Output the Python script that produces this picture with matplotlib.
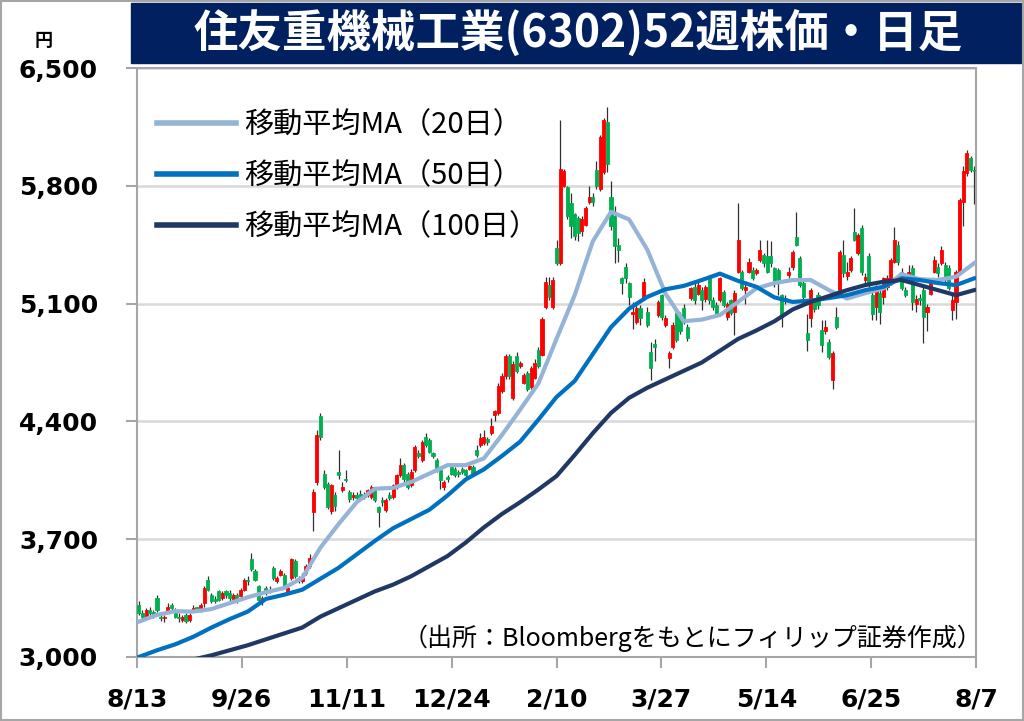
import matplotlib
matplotlib.use('Agg')
import matplotlib.pyplot as plt
from matplotlib.patches import Rectangle
from matplotlib.lines import Line2D
import numpy as np

plt.rcParams['font.family'] = ['DejaVu Sans', 'Noto Sans CJK JP']

# 日足 (始値, 高値, 安値, 終値)
opens = [3310, 3260, 3240, 3280, 3270, 3350, 3240, 3230, 3270, 3310,
         3280, 3240, 3220, 3250, 3220, 3280, 3295, 3280, 3320, 3460,
         3370, 3345, 3390, 3350, 3390, 3380, 3340, 3370, 3360, 3400,
         3460, 3580, 3510, 3420, 3330, 3410, 3390, 3530, 3450, 3490,
         3490, 3390, 3470, 3570, 3470, 3450, 3500, 3540, 3860, 4040,
         4430, 4090, 4030, 3870, 3960, 4100, 3990, 4060, 3980, 3950,
         3960, 3970, 3950, 3960, 3950, 3990, 3890, 3935, 3875, 3960,
         3950, 4010, 4080, 4140, 4090, 4020, 4110, 4215, 4170, 4310,
         4290, 4210, 4170, 4110, 4010, 4070, 4130, 4120, 4100, 4115,
         4110, 4120, 4130, 4230, 4260, 4270, 4295, 4330, 4440, 4450,
         4580, 4670, 4790, 4540, 4790, 4730, 4630, 4690, 4605, 4660,
         4825, 4795, 5080, 5210, 5080, 5430, 5340, 5800, 5790, 5700,
         5630, 5610, 5530, 5570, 5705, 5735, 5895, 5780, 5880, 6180,
         5735, 5620, 5450, 5250, 5320, 5220, 5040, 4990, 5075, 5135,
         5050, 4810, 4860, 5035, 5150, 4975, 4775, 4845, 5045, 5030,
         5075, 4960, 5135, 5200, 5160, 5180, 5130, 5250, 5120, 5090,
         5120, 5170, 5020, 5120, 5050, 5290, 5285, 5180, 5290, 5300,
         5280, 5360, 5390, 5380, 5380, 5310, 5300, 5150, 5135, 5270,
         5320, 5495, 5370, 5225, 4925, 5015, 5110, 5150, 4945, 4935,
         4870, 4645, 5020, 5180, 5390, 5265, 5300, 5525, 5400, 5550,
         5240, 5380, 5150, 5080, 5165, 5140, 5200, 5225, 5350, 5450,
         5290, 5180, 5240, 5310, 5100, 5135, 5180, 5050, 5160, 5290,
         5320, 5340, 5330, 5310, 5060, 5110, 5280, 5705, 5875, 5965,
         5895]
highs = [3330, 3280, 3290, 3300, 3280, 3370, 3250, 3250, 3320, 3320,
         3290, 3260, 3250, 3260, 3260, 3310, 3300, 3320, 3420, 3480,
         3380, 3360, 3400, 3390, 3400, 3400, 3380, 3380, 3410, 3470,
         3480, 3620, 3520, 3430, 3360, 3420, 3420, 3540, 3480, 3520,
         3500, 3420, 3590, 3580, 3480, 3500, 3550, 3610, 4000, 4350,
         4450, 4110, 4040, 4030, 3980, 4230, 4040, 4110, 3990, 3980,
         3980, 3990, 3980, 4000, 4020, 4000, 3900, 3950, 3945, 3980,
         4030, 4090, 4180, 4150, 4100, 4120, 4260, 4230, 4290, 4330,
         4300, 4220, 4180, 4120, 4050, 4080, 4140, 4130, 4110, 4130,
         4120, 4150, 4140, 4260, 4330, 4350, 4310, 4420, 4470, 4630,
         4690, 4800, 4800, 4760, 4810, 4760, 4690, 4700, 4730, 4770,
         4840, 5020, 5260, 5260, 5260, 5480, 6190, 5900, 5800, 5760,
         5640, 5620, 5620, 5680, 5800, 5760, 5950, 6100, 6200, 6270,
         5830, 5680, 5490, 5260, 5340, 5230, 5110, 5090, 5090, 5250,
         5080, 4870, 4890, 5120, 5160, 5030, 4820, 4990, 5070, 5050,
         5100, 4980, 5200, 5230, 5230, 5200, 5210, 5260, 5140, 5110,
         5260, 5180, 5110, 5130, 5180, 5700, 5300, 5230, 5370, 5320,
         5310, 5480, 5400, 5480, 5470, 5320, 5310, 5160, 5150, 5320,
         5420, 5645, 5380, 5240, 5040, 5190, 5130, 5170, 5000, 5000,
         4890, 4820, 5080, 5420, 5480, 5350, 5380, 5670, 5520, 5570,
         5280, 5400, 5180, 5210, 5180, 5260, 5270, 5370, 5555, 5470,
         5310, 5200, 5330, 5330, 5150, 5160, 5200, 5100, 5240, 5380,
         5340, 5440, 5350, 5330, 5170, 5300, 5730, 5920, 6010, 5980,
         5920]
lows = [3250, 3220, 3230, 3250, 3230, 3270, 3215, 3210, 3260, 3270,
        3230, 3210, 3210, 3205, 3210, 3270, 3270, 3270, 3300, 3390,
        3320, 3320, 3330, 3340, 3350, 3330, 3330, 3320, 3350, 3390,
        3430, 3510, 3450, 3320, 3310, 3370, 3380, 3460, 3440, 3480,
        3410, 3380, 3460, 3470, 3440, 3440, 3490, 3530, 3750, 4020,
        4290, 4000, 3880, 3850, 3870, 4060, 3980, 4040, 3920, 3930,
        3930, 3930, 3940, 3950, 3940, 3920, 3770, 3900, 3860, 3930,
        3940, 4000, 4070, 4040, 4000, 4010, 4100, 4180, 4160, 4250,
        4210, 4180, 4100, 4000, 3990, 4040, 4080, 4070, 4070, 4090,
        4070, 4110, 4080, 4190, 4250, 4260, 4260, 4320, 4400, 4440,
        4570, 4650, 4650, 4530, 4690, 4720, 4620, 4580, 4590, 4650,
        4720, 4790, 5070, 5120, 5070, 5330, 5330, 5790, 5600, 5490,
        5480, 5470, 5500, 5560, 5690, 5680, 5780, 5770, 5870, 5880,
        5540, 5340, 5350, 5160, 5220, 5090, 4950, 4980, 4970, 5120,
        4960, 4645, 4760, 5020, 5000, 4960, 4720, 4830, 4870, 4920,
        4980, 4880, 5120, 5100, 5150, 5060, 5110, 5100, 5060, 5030,
        5110, 5080, 5000, 5030, 4915, 5280, 5180, 5100, 5280, 5240,
        5270, 5350, 5320, 5280, 5320, 5200, 5150, 4960, 5100, 5250,
        5300, 5440, 5200, 5110, 4820, 4960, 5050, 5070, 4810, 4920,
        4770, 4590, 4950, 5170, 5260, 5240, 5290, 5470, 5390, 5270,
        5220, 5200, 5000, 5000, 4980, 5100, 5180, 5210, 5340, 5330,
        5180, 5140, 5220, 5060, 5050, 5090, 4865, 4940, 5150, 5280,
        5260, 5330, 5230, 5180, 5000, 5010, 5270, 5560, 5860, 5880,
        5690]
closes = [3260, 3240, 3280, 3260, 3250, 3280, 3230, 3240, 3300, 3290,
          3240, 3230, 3240, 3215, 3250, 3290, 3285, 3310, 3410, 3400,
          3330, 3330, 3340, 3380, 3370, 3350, 3370, 3330, 3400, 3460,
          3450, 3520, 3460, 3340, 3350, 3380, 3400, 3470, 3470, 3510,
          3420, 3410, 3580, 3480, 3460, 3470, 3540, 3590, 3980, 4320,
          4310, 4010, 3890, 4020, 3900, 4080, 4010, 4050, 3940, 3960,
          3945, 3940, 3960, 3990, 4010, 3930, 3860, 3920, 3935, 3945,
          4020, 4080, 4140, 4060, 4010, 4100, 4250, 4195, 4280, 4260,
          4220, 4195, 4110, 4050, 4040, 4055, 4090, 4080, 4090, 4100,
          4080, 4135, 4090, 4200, 4300, 4310, 4280, 4370, 4460, 4610,
          4670, 4790, 4670, 4740, 4700, 4745, 4675, 4590, 4720, 4750,
          4730, 5010, 5230, 5140, 5240, 5340, 5900, 5890, 5620, 5560,
          5500, 5520, 5600, 5670, 5735, 5705, 5800, 6090, 6190, 5930,
          5560, 5440, 5420, 5220, 5250, 5140, 5050, 5075, 5015, 5230,
          4975, 4715, 4845, 5110, 5020, 5015, 4805, 4975, 4885, 4940,
          4990, 4895, 5190, 5120, 5210, 5120, 5200, 5120, 5080, 5045,
          5250, 5090, 5100, 5045, 5165, 5480, 5195, 5200, 5350, 5250,
          5300, 5420, 5340, 5290, 5340, 5230, 5230, 5020, 5125, 5290,
          5405, 5450, 5210, 5140, 4885, 5180, 5070, 5090, 4855, 4960,
          4780, 4805, 4960, 5405, 5280, 5290, 5370, 5480, 5505, 5290,
          5260, 5215, 5040, 5200, 5050, 5250, 5250, 5360, 5480, 5350,
          5190, 5150, 5290, 5110, 5130, 5120, 5020, 5080, 5220, 5360,
          5280, 5420, 5250, 5195, 5120, 5290, 5715, 5890, 5995, 5895,
          5885]

# 移動平均 (5営業日ごとに読み取り)
ma_pos = list(range(0, 231, 5))
ma20 = [3210, 3250, 3272, 3270, 3285, 3320, 3355, 3385, 3410, 3470,
        3650, 3790, 3920, 4000, 4005, 4040, 4090, 4140, 4140, 4180,
        4320, 4470, 4625, 4890, 5150, 5470, 5645, 5600, 5420, 5160,
        4995, 5005, 5032, 5110, 5190, 5222, 5240, 5240, 5180, 5130,
        5162, 5190, 5275, 5245, 5240, 5260, 5340]
ma50 = [3000, 3040, 3075, 3120, 3175, 3225, 3270, 3345, 3370, 3400,
        3465, 3530, 3610, 3690, 3765, 3820, 3875, 3960, 4055, 4115,
        4195, 4280, 4410, 4545, 4640, 4800, 4960, 5070, 5140, 5185,
        5205, 5240, 5278, 5235, 5200, 5137, 5110, 5118, 5133, 5150,
        5180, 5200, 5250, 5240, 5222, 5210, 5250]
ma100 = [2890, 2920, 2950, 2985, 3010, 3040, 3070, 3105, 3140, 3175,
         3240, 3290, 3340, 3390, 3430, 3480, 3540, 3600, 3680, 3770,
         3850, 3920, 3995, 4075, 4200, 4330, 4450, 4540, 4600, 4650,
         4700, 4750, 4820, 4890, 4940, 4995, 5065, 5110, 5145, 5180,
         5210, 5230, 5240, 5210, 5180, 5150, 5180]

date_labels = ['8/13', '9/26', '11/11', '12/24', '2/10', '3/27', '5/14', '6/25', '8/7']
y_ticks = [3000, 3700, 4400, 5100, 5800, 6500]

opens = np.array(opens)
highs = np.array(highs)
lows = np.array(lows)
closes = np.array(closes)
n = len(closes)
x = np.arange(n)
colors = np.where(closes >= opens, '#FF0000', '#00B050')

fig = plt.figure(figsize=(10.24, 7.21), dpi=100)
W, H = 1024, 721
ax = fig.add_axes([137 / W, 1 - 657 / H, (976 - 137) / W, (657 - 68) / H])

ax.vlines(x, lows, highs, color='#303030', lw=0.9, zorder=2)
ax.bar(x, closes - opens, bottom=opens, width=0.85, color=colors,
       edgecolor=colors, linewidth=0.6, zorder=3)

c20, c50, c100 = '#95B3D7', '#0070C0', '#1F3864'
ax.plot(ma_pos, ma20, color=c20, lw=3, zorder=4)
ax.plot(ma_pos, ma50, color=c50, lw=3, zorder=4)
ax.plot(ma_pos, ma100, color=c100, lw=3, zorder=4)

ax.set_xlim(-0.5, n - 0.5)
ax.set_ylim(3000, 6500)
ax.set_yticks(y_ticks)
ax.set_yticklabels([f'{v:,}' for v in y_ticks], fontsize=18, fontweight='bold')
ax.set_xticks(-0.5 + np.arange(len(date_labels)) * n / (len(date_labels) - 1))
ax.set_xticklabels(date_labels, fontsize=18, fontweight='bold')
ax.tick_params(axis='y', color='#A6A6A6', width=1.5, length=8, pad=20)
ax.tick_params(axis='x', color='#A6A6A6', width=1.5, length=8, pad=14)
ax.grid(axis='y', color='#D9D9D9', lw=1.8)
ax.set_axisbelow(True)
for s in ax.spines.values():
    s.set_color('#A6A6A6')
    s.set_linewidth(1.5)

handles = [Line2D([], [], color=c, lw=4) for c in (c20, c50, c100)]
labels = ['移動平均MA（20日）', '移動平均MA（50日）', '移動平均MA（100日）']
ax.legend(handles, labels, loc='upper left', bbox_to_anchor=(157 / W, 1 - 110 / H),
          bbox_transform=fig.transFigure, frameon=False, borderpad=0, borderaxespad=0,
          handlelength=2.7, handletextpad=0.3, labelspacing=0.72,
          prop={'family': ['Noto Sans CJK JP'], 'size': 21})

# タイトル
fig.patches.append(Rectangle((131 / W, 1 - 63 / H), 890 / W, 60 / H,
                             transform=fig.transFigure, color='#002060', zorder=0))
fig.text(578 / W, 1 - 33 / H, '住友重機械工業(6302)52週株価・日足', color='white',
         fontsize=32, fontweight='bold', ha='center', va='center',
         family=['Noto Sans CJK JP'])
fig.text(44 / W, 1 - 40 / H, '円', fontsize=13, fontweight='bold', ha='center', va='center',
         family=['Noto Sans CJK JP'])
fig.text(982 / W, 1 - 638 / H, '（出所：Bloombergをもとにフィリップ証券作成）', fontsize=18,
         ha='right', va='center', family=['Noto Sans CJK JP'])

fig.patches.append(Rectangle((0.001, 0.0015), 0.998, 0.997, transform=fig.transFigure,
                             fill=False, edgecolor='#A6A6A6', lw=1.5))

fig.savefig('out.png', dpi=100)
